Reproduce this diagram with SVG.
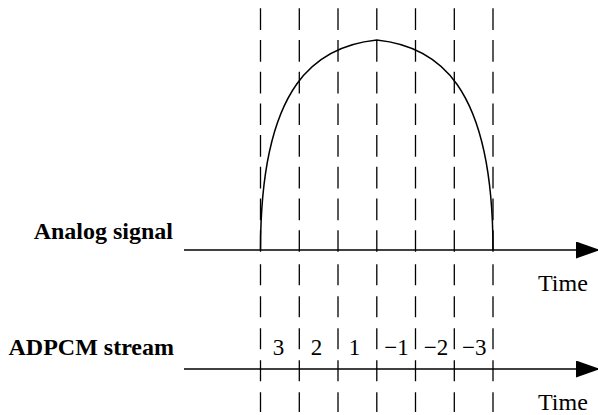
<svg xmlns="http://www.w3.org/2000/svg" width="598" height="415" viewBox="0 0 598 415">
<style>
.lbl{font-family:"Liberation Serif","Times New Roman",serif;font-size:24px;font-weight:bold;fill:#000}
.t{font-family:"Liberation Serif","Times New Roman",serif;font-size:24px;fill:#000}
.n{font-family:"Liberation Serif","Times New Roman",serif;font-size:23px;fill:#000;text-anchor:middle}
.du{stroke:#000;stroke-width:1.3;stroke-dasharray:21.7 10;fill:none}
.dl{stroke:#000;stroke-width:1.3;stroke-dasharray:21 11;fill:none}
.ax{stroke:#000;stroke-width:1.3;fill:none}
</style>
<defs>
<marker id="arr" markerUnits="userSpaceOnUse" markerWidth="26" markerHeight="18" refX="24" refY="8.5" orient="auto">
<path d="M0,0 L24,8.5 L0,17 Z" fill="#000"/>
</marker>
</defs>
<g id="grid">
<line class="du" x1="260.5" y1="8.3" x2="260.5" y2="251.7"/>
<line class="du" x1="299.3" y1="8.3" x2="299.3" y2="251.7"/>
<line class="du" x1="338" y1="8.3" x2="338" y2="251.7"/>
<line class="du" x1="376.8" y1="8.3" x2="376.8" y2="251.7"/>
<line class="du" x1="415.5" y1="8.3" x2="415.5" y2="251.7"/>
<line class="du" x1="454.3" y1="8.3" x2="454.3" y2="251.7"/>
<line class="du" x1="493" y1="8.3" x2="493" y2="251.7"/>
<line class="dl" x1="260.5" y1="264.3" x2="260.5" y2="412"/>
<line class="dl" x1="299.3" y1="264.3" x2="299.3" y2="412"/>
<line class="dl" x1="338" y1="264.3" x2="338" y2="412"/>
<line class="dl" x1="376.8" y1="264.3" x2="376.8" y2="412"/>
<line class="dl" x1="415.5" y1="264.3" x2="415.5" y2="412"/>
<line class="dl" x1="454.3" y1="264.3" x2="454.3" y2="412"/>
<line class="dl" x1="493" y1="264.3" x2="493" y2="412"/>
</g>
<g id="connectors">
<line class="ax" x1="184" y1="250" x2="600" y2="250" marker-end="url(#arr)"/>
<line class="ax" x1="184" y1="369" x2="600" y2="369" marker-end="url(#arr)"/>
</g>
<g id="signal">
<path d="M260.5,250 C260.5,82 318,46 376.8,40 C435.6,46 493,82 493,250" fill="none" stroke="#000" stroke-width="1.5"/>
</g>
<g id="analog-label"><text class="lbl" x="173" y="239" text-anchor="end">Analog signal</text></g>
<g id="adpcm-label"><text class="lbl" x="174" y="355" text-anchor="end">ADPCM stream</text></g>
<g id="time1"><text class="t" x="538" y="291">Time</text></g>
<g id="time2"><text class="t" x="538" y="410">Time</text></g>
<g id="values">
<text class="n" x="278.5" y="355">3</text>
<text class="n" x="316.5" y="355">2</text>
<text class="n" x="354.5" y="355">1</text>
<text class="n" x="396.5" y="355">−1</text>
<text class="n" x="436" y="355">−2</text>
<text class="n" x="474.3" y="355">−3</text>
</g>
</svg>
